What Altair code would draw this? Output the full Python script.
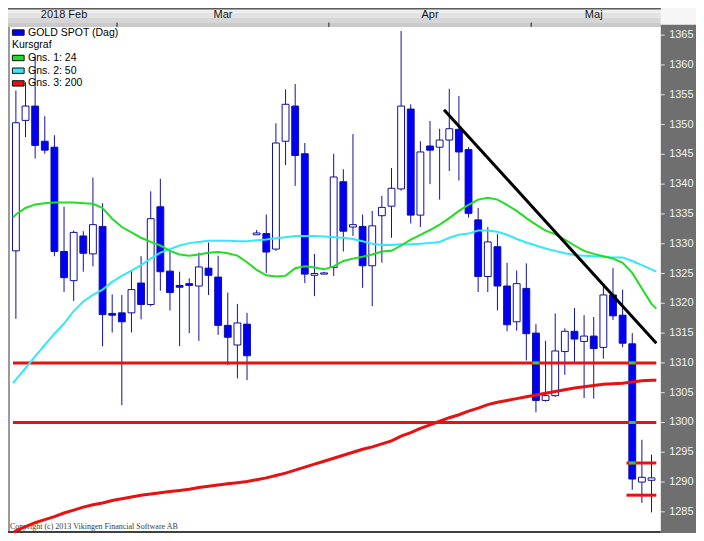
import altair as alt
import pandas as pd

# ---------------- data ----------------
# daily candles, index 0..66 (late Jan 2018 .. 17 May 2018)
opens = [1328.8, 1350.7, 1353.1, 1347.2, 1346.2, 1328.7, 1323.8, 1331.3, 1328.3, 1332.9,
         1318.3, 1318.4, 1318.4, 1323.4, 1319.8, 1336.2, 1325.4, 1323.0, 1323.3, 1322.9,
         1325.9, 1324.4, 1316.3, 1313.0, 1316.5, 1331.5, 1331.7, 1329.1, 1347.2, 1353.1,
         1345.1, 1324.7, 1324.9, 1326.0, 1340.4, 1332.8, 1332.9, 1326.3, 1334.7, 1336.3,
         1339.2, 1352.6, 1334.8, 1346.4, 1346.2, 1347.4, 1349.2, 1345.8, 1334.0, 1324.5,
         1329.5, 1322.9, 1316.9, 1322.5, 1315.0, 1303.7, 1304.5, 1311.9, 1315.3, 1313.6,
         1314.5, 1312.6, 1321.4, 1318.0, 1313.2, 1290.0, 1290.3]
highs = [1355.7, 1357.1, 1361.7, 1351.4, 1348.2, 1336.2, 1332.2, 1332.1, 1341.1, 1336.8,
         1321.5, 1321.4, 1325.5, 1327.9, 1338.8, 1340.9, 1328.8, 1325.3, 1324.2, 1328.5,
         1330.2, 1328.0, 1321.8, 1319.9, 1318.4, 1332.3, 1334.9, 1350.2, 1355.9, 1356.8,
         1346.9, 1328.3, 1325.3, 1345.1, 1342.5, 1348.4, 1334.9, 1335.5, 1338.0, 1342.7,
         1365.7, 1353.4, 1347.2, 1350.6, 1349.3, 1356.0, 1354.8, 1346.2, 1336.0, 1332.8,
         1331.6, 1326.8, 1325.5, 1326.7, 1316.5, 1313.7, 1318.3, 1315.8, 1319.2, 1318.0,
         1317.7, 1322.9, 1325.9, 1322.3, 1315.0, 1297.1, 1294.6]
lows = [1317.4, 1347.9, 1344.3, 1345.1, 1327.9, 1321.9, 1320.4, 1325.3, 1326.2, 1312.8,
        1315.1, 1302.9, 1315.1, 1317.3, 1319.5, 1322.1, 1318.8, 1312.8, 1315.0, 1313.7,
        1321.4, 1314.7, 1309.6, 1307.4, 1307.1, 1331.5, 1325.1, 1328.8, 1343.2, 1339.7,
        1323.4, 1321.2, 1324.9, 1324.6, 1328.7, 1331.3, 1322.6, 1319.5, 1326.8, 1331.0,
        1338.9, 1333.4, 1332.8, 1340.0, 1337.4, 1342.2, 1340.6, 1334.4, 1321.9, 1321.9,
        1318.8, 1315.3, 1315.4, 1310.4, 1301.7, 1303.5, 1304.3, 1308.0, 1310.1, 1304.1,
        1304.0, 1310.7, 1317.2, 1312.6, 1288.7, 1286.5, 1284.9]
closes = [1350.3, 1353.1, 1346.5, 1345.7, 1328.7, 1324.3, 1331.9, 1328.4, 1333.2, 1318.1,
          1318.0, 1316.9, 1322.3, 1319.8, 1334.2, 1325.3, 1321.8, 1322.7, 1323.0, 1326.1,
          1324.7, 1316.3, 1314.3, 1316.7, 1311.2, 1331.8, 1328.6, 1346.9, 1353.4, 1344.8,
          1324.9, 1325.0, 1325.1, 1341.2, 1332.1, 1333.2, 1326.3, 1333.0, 1336.1, 1339.3,
          1353.1, 1334.8, 1345.4, 1345.7, 1347.4, 1349.3, 1345.4, 1335.1, 1324.5, 1330.3,
          1322.9, 1316.4, 1323.3, 1314.9, 1303.7, 1304.5, 1312.0, 1315.3, 1314.0, 1314.5,
          1312.4, 1321.4, 1317.9, 1313.3, 1290.5, 1290.8, 1290.7]

# moving averages, sampled at the left edge, every candle and the right edge
ma_x = [-0.3] + list(range(67)) + [66.5]
ma24 = [1334.4, 1334.9, 1336.0, 1336.6, 1336.8, 1336.9, 1336.9, 1336.9, 1336.8, 1336.7, 1336.0,
        1334.2, 1332.8, 1331.9, 1331.0, 1330.3, 1329.7, 1328.8, 1328.2, 1328.0, 1328.2,
        1328.5, 1328.6, 1328.4, 1328.0, 1326.9, 1325.6, 1324.7, 1324.5, 1324.6, 1325.9,
        1326.2, 1326.0, 1325.7, 1326.2, 1327.1, 1327.5, 1327.8, 1328.2, 1328.7, 1328.8,
        1329.7, 1330.7, 1331.5, 1332.3, 1333.2, 1334.3, 1335.5, 1336.5, 1337.4, 1337.7,
        1337.4, 1336.5, 1335.5, 1334.3, 1333.2, 1332.2, 1331.6, 1330.7, 1329.7, 1328.8,
        1328.3, 1327.9, 1327.5, 1326.8, 1325.1, 1322.5, 1319.9, 1319.1]
ma50 = [1306.6, 1307.2, 1309.1, 1311.1, 1313.0, 1314.9, 1316.6, 1318.7, 1320.3, 1321.4, 1322.3,
        1323.6, 1324.6, 1325.5, 1326.4, 1327.5, 1328.5, 1329.1, 1329.7, 1330.1, 1330.3,
        1330.5, 1330.5, 1330.5, 1330.4, 1330.4, 1330.6, 1330.7, 1330.9, 1331.1, 1331.3,
        1331.3, 1331.3, 1331.2, 1331.1, 1331.0, 1330.8, 1330.4, 1330.0, 1329.8, 1329.8,
        1329.9, 1329.9, 1330.0, 1330.1, 1330.3, 1331.0, 1331.5, 1331.7, 1332.2, 1332.2,
        1332.0, 1331.5, 1330.8, 1330.2, 1329.7, 1329.2, 1328.8, 1328.4, 1328.1, 1328.0,
        1327.9, 1327.8, 1327.7, 1327.7, 1327.1, 1326.4, 1325.7, 1325.3]
ma200 = [1281.5, 1281.8, 1282.5, 1283.2, 1283.7, 1284.2, 1284.8, 1285.3, 1285.8, 1286.2, 1286.5,
         1286.9, 1287.2, 1287.5, 1287.8, 1288.0, 1288.2, 1288.4, 1288.6, 1288.8, 1289.1,
         1289.3, 1289.5, 1289.7, 1289.9, 1290.1, 1290.4, 1290.7, 1291.1, 1291.5, 1292.0,
         1292.5, 1293.0, 1293.5, 1294.0, 1294.5, 1295.0, 1295.5, 1295.9, 1296.4, 1296.9,
         1297.7, 1298.3, 1299.0, 1299.6, 1300.2, 1300.8, 1301.3, 1301.9, 1302.4, 1303.0,
         1303.4, 1303.7, 1304.0, 1304.3, 1304.6, 1304.9, 1305.2, 1305.5, 1305.8, 1306.0,
         1306.2, 1306.4, 1306.5, 1306.6, 1306.8, 1307.0, 1307.1, 1307.1]

# horizontal levels and trend line
levels_full = [1310, 1300]
levels_short = [1293.2, 1287.8]
levels_short_from = 63.4
trend_k = [44.45, 66.5]
trend_v = [1352.5, 1313.3]

# months (first / last visible candle index)
months = ["2018 Feb", "Mar", "Apr", "Maj"]
month_first = [0, 11, 33, 54]
month_last = [10, 32, 53, 66]

tick_values = [1285, 1290, 1295, 1300, 1305, 1310, 1315, 1320, 1325, 1330,
               1335, 1340, 1345, 1350, 1355, 1360, 1365]

legend_labels = ["GOLD SPOT (Dag)", "Kursgraf", "Gns. 1: 24", "Gns. 2: 50", "Gns. 3: 200"]
legend_colors = ["#0000ff", None, "#22dd22", "#33e8f8", "#e81010"]
copyright_text = "Copyright (c) 2013 Vikingen Financial Software AB"

# ---------------- layout ----------------
SX = 688 / 704
SY = 525 / 541
TOTAL_W = 688
H = 525
XMIN, XMAX = -0.3, 70.1      # whole picture width in candle units
PLOT_END = 66.5              # right edge of price area
YMIN, YMAX = 1281.45, 1369.56
PANEL_X = 668 * SX           # pixel where the grey scale panel starts
PANEL_TOP_PX = 17 * SY
HEADER_PX = 19.5 * SY

WICK = "#12129a"
BLUE = "#0000f4"
GREEN = "#22dd22"
CYAN = "#33e8f8"
RED = "#e81010"
PANEL_GREY = "#6f6f6f"
HEADER_SHADES = ["#eeeeee", "#e2e2e2", "#d6d6d6", "#cacaca"]

xscale = alt.Scale(domain=[XMIN, XMAX], nice=False, zero=False)
yscale = alt.Scale(domain=[YMIN, YMAX], nice=False, zero=False)


def X(f):
    return alt.X(f, type="quantitative", scale=xscale, axis=None)


def Y(f):
    return alt.Y(f, type="quantitative", scale=yscale, axis=None)


one = pd.DataFrame({"a": [0]})
cd = pd.DataFrame({"k": list(range(len(opens))), "o": opens, "h": highs,
                   "l": lows, "c": closes})
ma = pd.DataFrame({"k": ma_x, "m24": ma24, "m50": ma50, "m200": ma200})

layers = []

# header band: stacked solid shades (light at top, darker at bottom)
n = len(HEADER_SHADES)
for i, shade in enumerate(HEADER_SHADES):
    layers.append(alt.Chart(one).mark_rect(fill=shade).encode(
        x=alt.value(0), x2=alt.value(PANEL_X),
        y=alt.value(HEADER_PX * i / n), y2=alt.value(HEADER_PX * (i + 1) / n)))

# borders
layers.append(alt.Chart(one).mark_rule(color="#5a5a5a", strokeWidth=1.5).encode(
    x=alt.value(0), x2=alt.value(TOTAL_W), y=alt.value(0.7)))
layers.append(alt.Chart(one).mark_rule(color="#9a9a9a", strokeWidth=2).encode(
    x=alt.value(1), y=alt.value(HEADER_PX), y2=alt.value(H)))
layers.append(alt.Chart(one).mark_rule(color="#404040", strokeWidth=2).encode(
    x=alt.value(0), x2=alt.value(PANEL_X), y=alt.value(H - 1)))

# month labels and boundaries in header
mdf = pd.DataFrame({"m": months, "first": month_first, "last": month_last})
layers.append(alt.Chart(mdf).transform_calculate(mid="(datum.first + datum.last) / 2").mark_text(
    font="Liberation Sans", fontSize=11, color="#151515", baseline="middle").encode(
    x=X("mid"), y=alt.value(7.5 * SY), text="m:N"))
layers.append(alt.Chart(mdf).transform_filter("datum.first > 0").transform_calculate(
    b="datum.first - 0.5").mark_rule(color="#202020", strokeWidth=1).encode(
    x=X("b"), y=alt.value(15 * SY), y2=alt.value(HEADER_PX)))

# copyright
layers.append(alt.Chart(one).mark_text(text=copyright_text, font="Liberation Serif",
                                       fontSize=8, color="#3a3a3a", align="left",
                                       baseline="alphabetic").encode(
    x=alt.value(2), y=alt.value(536.5 * SY)))

# candles
layers.append(alt.Chart(cd).mark_rule(color=WICK, strokeWidth=1).encode(
    x=X("k"), y=Y("l"), y2="h"))
layers.append(alt.Chart(cd).mark_bar(size=7 * SX, strokeWidth=1, stroke=WICK).encode(
    x=X("k"), y=Y("o"), y2="c",
    fill=alt.condition("datum.c >= datum.o", alt.value("white"), alt.value(BLUE))))

# horizontal levels
lf = pd.DataFrame({"v": levels_full, "k0": [XMIN] * len(levels_full),
                   "k1": [PLOT_END] * len(levels_full)})
layers.append(alt.Chart(lf).mark_rule(color=RED, strokeWidth=3).encode(
    x=X("k0"), x2="k1", y=Y("v")))
ls = pd.DataFrame({"v": levels_short, "k0": [levels_short_from] * len(levels_short),
                   "k1": [PLOT_END] * len(levels_short)})
layers.append(alt.Chart(ls).mark_rule(color=RED, strokeWidth=3).encode(
    x=X("k0"), x2="k1", y=Y("v")))

# where the levels cross a filled body the line shows green
cross = []
for lv in levels_full + levels_short:
    for k, (o, c) in enumerate(zip(opens, closes)):
        if c < o and c < lv < o:
            if lv in levels_short and k < levels_short_from:
                continue
            cross.append({"k0": k - 0.35, "k1": k + 0.35, "v": lv})
layers.append(alt.Chart(pd.DataFrame(cross)).mark_rule(color="#33cc33", strokeWidth=3).encode(
    x=X("k0"), x2="k1", y=Y("v")))

# moving averages
layers.append(alt.Chart(ma).mark_line(color=RED, strokeWidth=3).encode(x=X("k"), y=Y("m200")))
layers.append(alt.Chart(ma).mark_line(color=CYAN, strokeWidth=2).encode(x=X("k"), y=Y("m50")))
layers.append(alt.Chart(ma).mark_line(color=GREEN, strokeWidth=2).encode(x=X("k"), y=Y("m24")))

# trend line
td = pd.DataFrame({"k": trend_k, "v": trend_v})
layers.append(alt.Chart(td).mark_line(color="#000000", strokeWidth=3).encode(x=X("k"), y=Y("v")))

# legend
for i, (lab, col) in enumerate(zip(legend_labels, legend_colors)):
    yc = (25.3 + 13.1 * i) * SY
    if col is not None:
        layers.append(alt.Chart(one).mark_rect(fill=col, stroke="#101010", strokeWidth=1).encode(
            x=alt.value(4.5 * SX), x2=alt.value(16.5 * SX), y=alt.value(yc - 2.7), y2=alt.value(yc + 2.7)))
        tx = 20.5 * SX
    else:
        tx = 4 * SX
    layers.append(alt.Chart(one).mark_text(text=lab, font="Liberation Sans", fontSize=10.5,
                                           color="#000000", align="left",
                                           baseline="middle").encode(
        x=alt.value(tx), y=alt.value(yc)))

# right price panel, drawn last
layers.append(alt.Chart(one).mark_rect(fill=PANEL_GREY).encode(
    x=alt.value(PANEL_X), x2=alt.value(TOTAL_W), y=alt.value(PANEL_TOP_PX), y2=alt.value(H)))
layers.append(alt.Chart(one).mark_rect(fill="#f6f6f6").encode(
    x=alt.value(PANEL_X), x2=alt.value(TOTAL_W), y=alt.value(0), y2=alt.value(PANEL_TOP_PX)))

# price scale ticks and labels on the grey panel
tdf = pd.DataFrame({"v": tick_values})
layers.append(alt.Chart(tdf).mark_rule(color="#e4e4e4", strokeWidth=1).encode(
    x=alt.value(PANEL_X), x2=alt.value(PANEL_X + 4 * SX), y=Y("v")))
layers.append(alt.Chart(tdf).mark_text(
    font="Liberation Sans", fontSize=11, color="#f2f2f2", align="left",
    baseline="middle").encode(x=alt.value(PANEL_X + 8.5 * SX), y=Y("v"),
                              text=alt.Text("v:Q", format="d")))

chart = alt.layer(*layers).properties(
    width=TOTAL_W, height=H,
    padding={"left": 0, "top": 0, "right": 0, "bottom": 0},
    autosize=alt.AutoSizeParams(type="none"),
    background="white",
).configure_view(stroke=None)

chart.save("out.html", embed_options={"renderer": "svg", "actions": False})
